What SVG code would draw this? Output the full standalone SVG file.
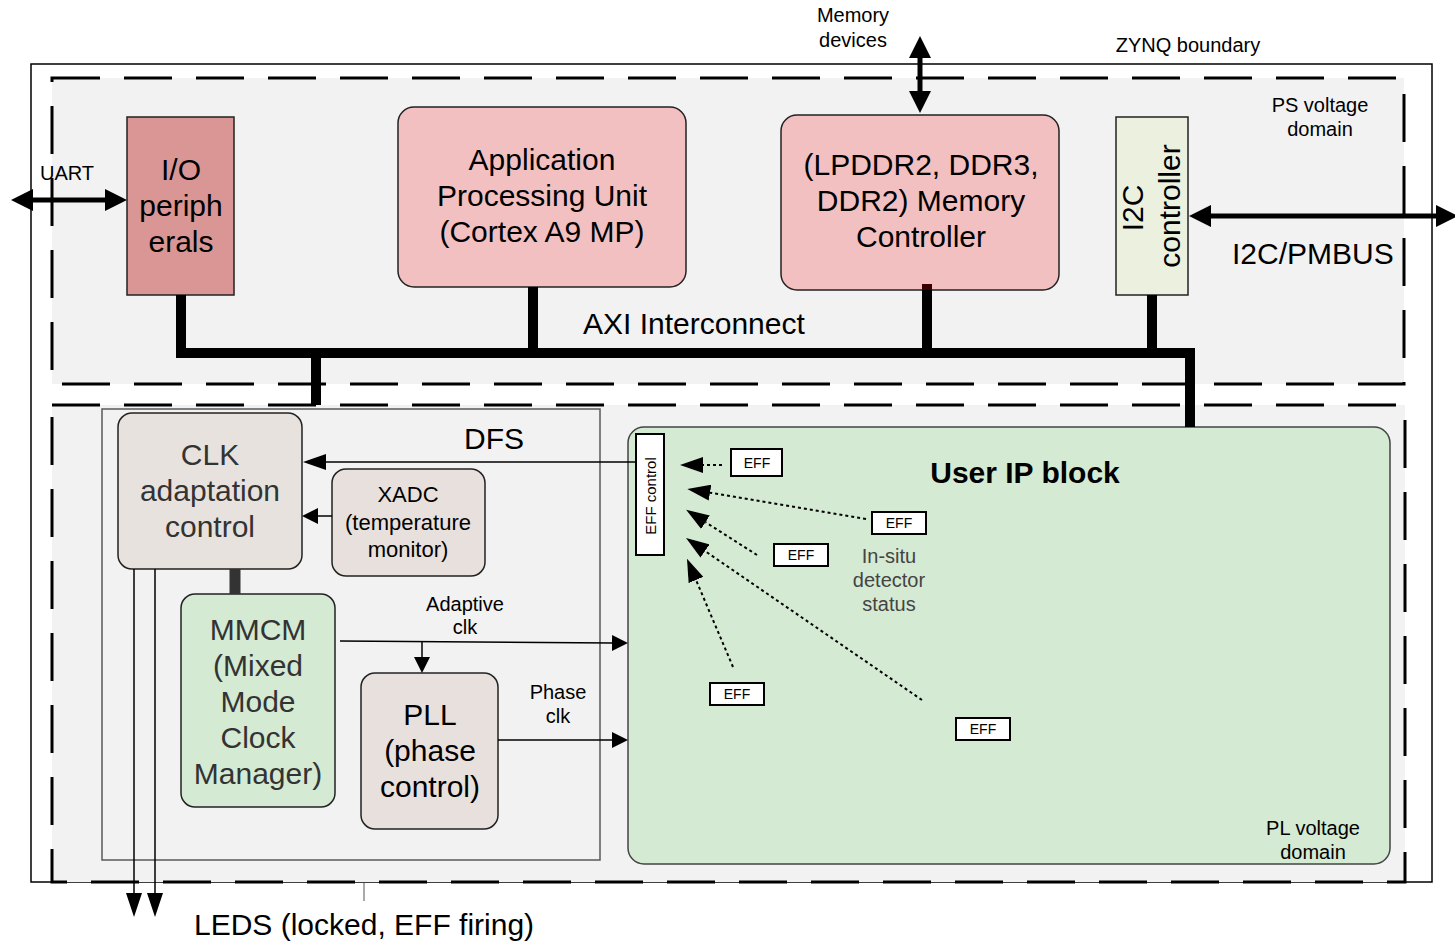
<svg xmlns="http://www.w3.org/2000/svg" width="1455" height="942" viewBox="0 0 1455 942">
  <style>
    text { font-family: "Liberation Sans", Arial, sans-serif; fill: #000; }
    .big { font-size: 30px; }
    .lbl { font-size: 20px; }
    .sm { font-size: 14px; }
    .mid { text-anchor: middle; }
    .grey { fill: #333; }
    .status { fill: #444; }
    .domain { fill: #f2f2f2; stroke: #000; stroke-width: 3; stroke-dasharray: 48 24; }
    .box { stroke: #222; stroke-width: 1.5; }
    .eff { fill: #fff; stroke: #000; stroke-width: 2; }
    .bus { fill: none; stroke: #000; stroke-width: 10; }
    .thick { fill: none; stroke: #000; stroke-width: 5; }
    .thin { fill: none; stroke: #000; stroke-width: 1.5; }
    .dot { fill: none; stroke: #000; stroke-width: 2; stroke-dasharray: 3 3; }
  </style>
  <defs>
    <marker id="bigHead" markerUnits="userSpaceOnUse" markerWidth="22" markerHeight="22" refX="0" refY="11" orient="auto-start-reverse">
      <path d="M0,0 L22,11 L0,22 z" fill="#000"/>
    </marker>
    <marker id="head" markerUnits="userSpaceOnUse" markerWidth="16" markerHeight="16" refX="0" refY="8" orient="auto">
      <path d="M0,0 L16,8 L0,16 z" fill="#000"/>
    </marker>
    <marker id="headL" markerUnits="userSpaceOnUse" markerWidth="23" markerHeight="16" refX="0" refY="8" orient="auto">
      <path d="M0,0 L23,8 L0,16 z" fill="#000"/>
    </marker>
    <marker id="ledHead" markerUnits="userSpaceOnUse" markerWidth="24" markerHeight="16" refX="0" refY="8" orient="auto">
      <path d="M0,0 L24,8 L0,16 z" fill="#000"/>
    </marker>
    <marker id="dotHead" markerUnits="userSpaceOnUse" markerWidth="23" markerHeight="16" refX="0" refY="8" orient="auto">
      <path d="M0,0 L23,8 L0,16 z" fill="#000"/>
    </marker>
  </defs>

  <!-- chip outline and voltage domains -->
  <g id="zynq">
    <rect x="31" y="64" width="1401" height="818" fill="#fff" stroke="#000" stroke-width="1.5"/>
    <text class="lbl mid" x="1188" y="52">ZYNQ boundary</text>
  </g>
  <g id="ps-domain">
    <rect class="domain" x="52" y="78" width="1352" height="306"/>
    <text class="lbl mid" x="1320" y="112">PS voltage</text>
    <text class="lbl mid" x="1320" y="136">domain</text>
  </g>
  <g id="pl-domain">
    <rect class="domain" x="52" y="405" width="1353" height="477"/>
  </g>

  <!-- PS blocks -->
  <g id="io-peripherals">
    <rect class="box" x="127" y="117" width="107" height="178" fill="#d99694"/>
    <text class="big mid" x="181" y="180">I/O</text>
    <text class="big mid" x="181" y="216">periph</text>
    <text class="big mid" x="181" y="252">erals</text>
  </g>
  <g id="apu">
    <rect class="box" x="398" y="107" width="288" height="180" rx="16" fill="#f2c0c0"/>
    <text class="big mid" x="542" y="170">Application</text>
    <text class="big mid" x="542" y="206">Processing Unit</text>
    <text class="big mid" x="542" y="242">(Cortex A9 MP)</text>
  </g>
  <g id="memory-controller">
    <rect class="box" x="781" y="115" width="278" height="175" rx="16" fill="#f2c0c0"/>
    <text class="big mid" x="921" y="175">(LPDDR2, DDR3,</text>
    <text class="big mid" x="921" y="211">DDR2) Memory</text>
    <text class="big mid" x="921" y="247">Controller</text>
  </g>
  <g id="i2c-controller">
    <rect class="box" x="1116" y="117" width="72" height="178" fill="#ebf1de"/>
    <text class="big mid" transform="translate(1143,208) rotate(-90)">I2C</text>
    <text class="big mid" transform="translate(1180,206) rotate(-90)">controller</text>
  </g>
  <g id="axi-label">
    <text class="big" x="583" y="334">AXI Interconnect</text>
  </g>

  <!-- PL blocks -->
  <g id="dfs">
    <rect x="102" y="409" width="498" height="451" fill="none" stroke="#595959" stroke-width="1.5"/>
    <text class="big mid" x="494" y="449">DFS</text>
  </g>
  <g id="clk-adaptation">
    <rect class="box" x="118" y="413" width="184" height="156" rx="14" fill="#e7e2dd" stroke="#333"/>
    <text class="big mid grey" x="210" y="465">CLK</text>
    <text class="big mid grey" x="210" y="501">adaptation</text>
    <text class="big mid grey" x="210" y="537">control</text>
  </g>
  <g id="xadc">
    <rect class="box" x="332" y="469" width="153" height="107" rx="14" fill="#e8e0dc"/>
    <text class="mid" x="408" y="502" font-size="22">XADC</text>
    <text class="mid" x="408" y="530" font-size="22">(temperature</text>
    <text class="mid" x="408" y="557" font-size="22">monitor)</text>
  </g>
  <g id="mmcm">
    <rect class="box" x="181" y="594" width="154" height="213" rx="14" fill="#d4ead3" stroke="#333"/>
    <text class="big mid grey" x="258" y="640">MMCM</text>
    <text class="big mid grey" x="258" y="676">(Mixed</text>
    <text class="big mid grey" x="258" y="712">Mode</text>
    <text class="big mid grey" x="258" y="748">Clock</text>
    <text class="big mid grey" x="258" y="784">Manager)</text>
  </g>
  <g id="pll">
    <rect class="box" x="361" y="673" width="137" height="156" rx="14" fill="#e8e0dc"/>
    <text class="big mid" x="430" y="725">PLL</text>
    <text class="big mid" x="430" y="761">(phase</text>
    <text class="big mid" x="430" y="797">control)</text>
  </g>
  <g id="user-ip">
    <rect x="628" y="427" width="762" height="437" rx="16" fill="#d4ead3" stroke="#444" stroke-width="1.5"/>
    <text class="mid" x="1025" y="483" font-size="30" font-weight="bold">User IP block</text>
    <text class="lbl mid status" x="889" y="563">In-situ</text>
    <text class="lbl mid status" x="889" y="587">detector</text>
    <text class="lbl mid status" x="889" y="611">status</text>
    <text class="lbl mid" x="1313" y="835">PL voltage</text>
    <text class="lbl mid" x="1313" y="859">domain</text>
  </g>
  <g id="eff-control">
    <rect class="eff" x="636" y="434" width="28" height="121"/>
    <text class="mid" transform="translate(656,496) rotate(-90)" font-size="15">EFF control</text>
  </g>
  <g id="eff-1">
    <rect class="eff" x="731" y="449" width="51" height="27"/>
    <text class="sm mid" x="757" y="468">EFF</text>
  </g>
  <g id="eff-2">
    <rect class="eff" x="872" y="512" width="54" height="22"/>
    <text class="sm mid" x="899" y="528">EFF</text>
  </g>
  <g id="eff-3">
    <rect class="eff" x="774" y="544" width="54" height="22"/>
    <text class="sm mid" x="801" y="560">EFF</text>
  </g>
  <g id="eff-4">
    <rect class="eff" x="710" y="683" width="54" height="22"/>
    <text class="sm mid" x="737" y="699">EFF</text>
  </g>
  <g id="eff-5">
    <rect class="eff" x="956" y="718" width="54" height="22"/>
    <text class="sm mid" x="983" y="734">EFF</text>
  </g>

  <!-- external labels -->
  <g id="labels">
    <text class="lbl" x="40" y="180">UART</text>
    <text class="lbl mid" x="853" y="22">Memory</text>
    <text class="lbl mid" x="853" y="47">devices</text>
    <text class="big" x="1232" y="264">I2C/PMBUS</text>
    <text class="lbl mid" x="465" y="611">Adaptive</text>
    <text class="lbl mid" x="465" y="634">clk</text>
    <text class="lbl mid" x="558" y="699">Phase</text>
    <text class="lbl mid" x="558" y="723">clk</text>
    <text class="big" x="194" y="935">LEDS (locked, EFF firing)</text>
  </g>

  <!-- connectors -->
  <g id="connectors">
    <!-- AXI interconnect bus -->
    <path class="bus" d="M181,295 V353 H1190 V427"/>
    <path class="bus" d="M316,353 V405"/>
    <path class="bus" d="M533,287 V353"/>
    <path class="bus" d="M927,290 V353"/>
    <rect x="922" y="284" width="10" height="6" fill="#3a0000"/>
    <path class="bus" d="M1152,295 V353"/>
    <path d="M235,569 V594" stroke="#333" stroke-width="11"/>

    <!-- external buses -->
    <line class="thick" x1="33" y1="200" x2="105" y2="200" marker-start="url(#bigHead)" marker-end="url(#bigHead)"/>
    <line class="thick" x1="920" y1="58" x2="920" y2="91" marker-start="url(#bigHead)" marker-end="url(#bigHead)"/>
    <line class="thick" x1="1211" y1="216" x2="1436" y2="216" marker-start="url(#bigHead)" marker-end="url(#bigHead)"/>

    <!-- control and clock signals -->
    <line class="thin" x1="636" y1="462" x2="326" y2="462" marker-end="url(#headL)"/>
    <line class="thin" x1="332" y1="516" x2="318" y2="516" marker-end="url(#head)"/>
    <line class="thin" x1="340" y1="641" x2="612" y2="643" marker-end="url(#head)"/>
    <line class="thin" x1="422" y1="642" x2="422" y2="657" marker-end="url(#head)"/>
    <line class="thin" x1="498" y1="740" x2="612" y2="740" marker-end="url(#head)"/>
    <line class="thin" x1="134" y1="569" x2="134" y2="893" marker-end="url(#ledHead)"/>
    <line class="thin" x1="155" y1="569" x2="155" y2="893" marker-end="url(#ledHead)"/>
    <line x1="364" y1="883" x2="364" y2="901" stroke="#555" stroke-width="1"/>

    <!-- detector status lines -->
    <line class="dot" x1="722" y1="465" x2="703" y2="465" marker-end="url(#dotHead)"/>
    <line class="dot" x1="866" y1="519" x2="710" y2="492.7" marker-end="url(#dotHead)"/>
    <line class="dot" x1="757" y1="555" x2="705.5" y2="522.2" marker-end="url(#dotHead)"/>
    <line class="dot" x1="922" y1="700" x2="705" y2="551" marker-end="url(#dotHead)"/>
    <line class="dot" x1="733" y1="667" x2="696" y2="580" marker-end="url(#dotHead)"/>
  </g>
</svg>
